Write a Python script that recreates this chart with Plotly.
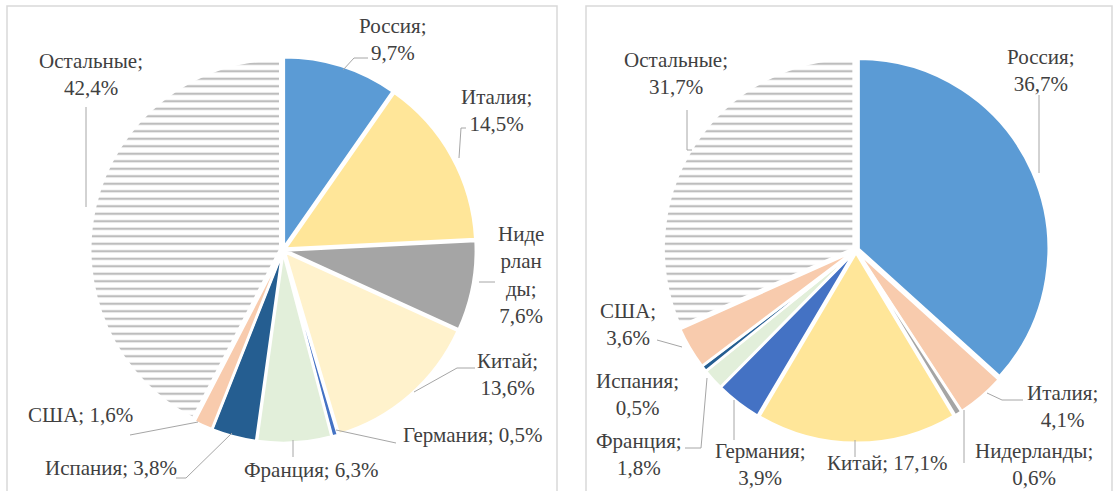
import plotly.graph_objects as go

W, H = 1115, 491

# ---------------- data ----------------
categories = ["Россия", "Италия", "Нидерланды", "Китай", "Германия",
              "Франция", "Испания", "США", "Остальные"]
left_values = [9.7, 14.5, 7.6, 13.6, 0.5, 6.3, 3.8, 1.6, 42.4]
right_values = [36.7, 4.1, 0.6, 17.1, 3.9, 1.8, 0.5, 3.6, 31.7]

left_colors = ["#5B9BD5", "#FFE699", "#A5A5A5", "#FFF2CC", "#4472C4",
               "#E2EFDA", "#255E91", "#F8CBAD", "#FFFFFF"]
right_colors = ["#5B9BD5", "#F8CBAD", "#A5A5A5", "#FFE699", "#4472C4",
                "#E2EFDA", "#255E91", "#F8CBAD", "#FFFFFF"]
patterns = ["", "", "", "", "", "", "", "", "-"]

# ---------------- layout helpers ----------------
def px(x, y):
    return x / W, 1 - y / H

R = 190
PULL = 0.015


def domain(cx, cy):
    s = 2 * R * (1 + PULL)
    return dict(x=[(cx - s / 2) / W, (cx + s / 2) / W],
                y=[(H - cy - s / 2) / H, (H - cy + s / 2) / H])


def fmt(v):
    return f"{v:.1f}".replace(".", ",") + "%"


fig = go.Figure()

for vals, cols, (cx, cy) in [(left_values, left_colors, (283, 250)),
                             (right_values, right_colors, (856, 250))]:
    fig.add_trace(go.Pie(
        labels=categories, values=vals, sort=False, direction="clockwise",
        rotation=0, textinfo="none", hoverinfo="label+percent",
        pull=[PULL] * len(vals),
        marker=dict(colors=cols, line=dict(color="white", width=2.5),
                    pattern=dict(shape=patterns, fgcolor="#BDBDBD",
                                 bgcolor="white", size=7.5, solidity=0.3)),
        domain=domain(cx, cy), showlegend=False,
    ))

# label placement (pixel centres) and line-break style per category
left_labels = {
    "Россия": ((393, 40), "two"),
    "Италия": ((496, 110), "two"),
    "Нидерланды": ((521, 275), "wrap"),
    "Китай": ((507, 374), "two"),
    "Германия": ((472, 435), "one"),
    "Франция": ((311, 470), "one"),
    "Испания": ((111, 468), "one"),
    "США": ((80, 415), "one"),
    "Остальные": ((91, 75), "two"),
}
right_labels = {
    "Россия": ((1041, 70), "two"),
    "Италия": ((1062, 406), "two"),
    "Нидерланды": ((1034, 464), "two"),
    "Китай": ((887, 463), "one"),
    "Германия": ((760, 464), "two"),
    "Франция": ((639, 454), "two"),
    "Испания": ((637, 394), "two"),
    "США": ((628, 324), "two"),
    "Остальные": ((676, 73), "two"),
}
wraps = {"Нидерланды": "Ниде<br>рлан<br>ды"}

FONT = "Liberation Serif"

annotations = []
for vals, labs in [(left_values, left_labels), (right_values, right_labels)]:
    for name, v in zip(categories, vals):
        (x, y), mode = labs[name]
        if mode == "one":
            t = f"{name}; {fmt(v)}"
        elif mode == "wrap":
            t = f"{wraps[name]};<br>{fmt(v)}"
        else:
            t = f"{name};<br>{fmt(v)}"
        ax, ay = px(x, y)
        annotations.append(dict(
            x=ax, y=ay, xref="paper", yref="paper", text=t, showarrow=False,
            xanchor="center", yanchor="middle", align="center",
            font=dict(family=FONT, size=21, color="#404040")))

# leader lines (pixel polylines)
leaders = [
    [(343, 70), (354, 58), (368, 58)],
    [(86, 107), (86, 207)],
    [(459, 158), (461, 128), (466, 128)],
    [(479, 282), (495, 282)],
    [(414, 392), (457, 368), (475, 368)],
    [(336, 430), (396, 443)],
    [(293, 440), (293, 457)],
    [(232, 433), (186, 478), (176, 478)],
    [(198, 422), (130, 435)],
    [(1039, 95), (1039, 173)],
    [(687, 110), (687, 150), (692, 150)],
    [(657, 340), (682, 347)],
    [(685, 448), (701, 448), (707, 378)],
    [(734, 400), (734, 440)],
    [(855, 440), (855, 457)],
    [(964, 410), (964, 463)],
    [(987, 393), (1002, 400), (1023, 400)],
]

shapes = []
for x0, x1 in [(7, 557), (586, 1112)]:
    a = px(x0, 6)
    b = px(x1, 520)
    shapes.append(dict(type="rect", xref="paper", yref="paper",
                       x0=a[0], y0=b[1], x1=b[0], y1=a[1],
                       line=dict(color="#D9D9D9", width=1.5), layer="below"))
for pts in leaders:
    path = ""
    for i, (x, y) in enumerate(pts):
        X, Y = px(x, y)
        path += ("M" if i == 0 else "L") + f"{X},{Y} "
    shapes.append(dict(type="path", xref="paper", yref="paper", path=path,
                       line=dict(color="#A6A6A6", width=1)))

fig.update_layout(
    width=W, height=H, margin=dict(l=0, r=0, t=0, b=0),
    paper_bgcolor="white", plot_bgcolor="white",
    annotations=annotations, shapes=shapes,
)

fig.write_html("out.html")
